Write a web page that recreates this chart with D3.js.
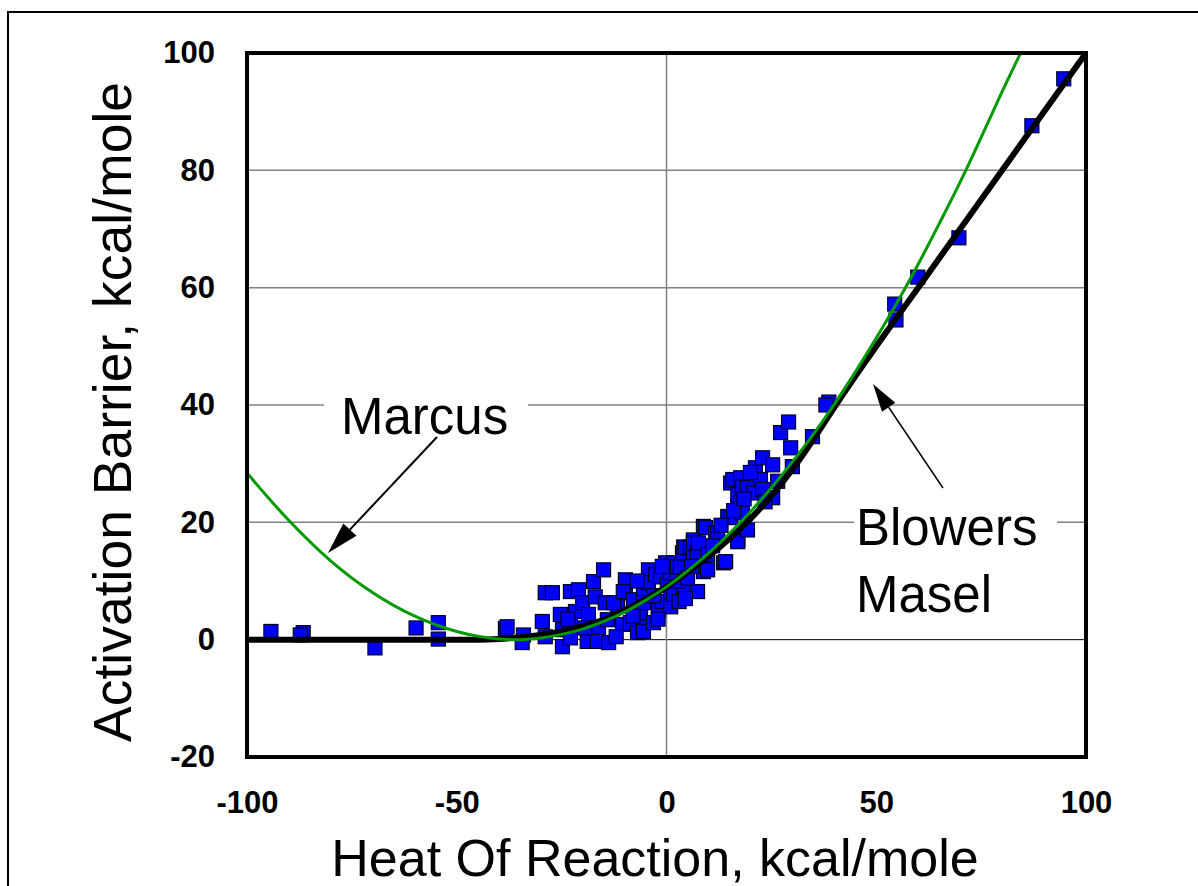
<!DOCTYPE html>
<html>
<head>
<meta charset="utf-8">
<script src="https://cdn.jsdelivr.net/npm/d3@7"></script>
<style>
  body { margin: 0; background: #fff; }
  svg { display: block; font-family: "Liberation Sans", Arial, sans-serif; }
</style>
</head>
<body>
<svg id="chart" width="1198" height="886"></svg>
<script>
// measured barriers (heat of reaction, activation barrier), kcal/mole
const heatOfReaction = [
  -94.3, -86.6, -87.3, -69.5, -59.7, -54.4, -54.4, -38.4, -38.0, -34.1, -34.4, -29.6, -28.9, -28.9, -27.2,
  -25.3, -24.8, -24.8, -22.9, -21.0, -21.7, -22.9, -22.9, -20.0, -18.9, -18.6, -17.4, -17.0, -16.2, -16.5,
  -15.0, -14.6, -14.1, -13.8, -11.7, -12.6, -10.5, -9.8, -9.8, -10.3, -8.6, -7.9, -6.9, -6.2, -6.2,
  -5.7, -5.5, -5.5, -5.5, -4.3, -4.3, -3.1, -2.6, -1.9, -1.4, -1.0, -0.2, 0.2, 1.0, 1.0,
  1.0, 1.7, 1.7, 2.6, 3.3, 3.8, 4.1, 4.1, 4.5, 5.7, 6.4, 6.4, 6.4, 7.4, 7.4,
  7.6, 8.8, 8.8, 8.8, 9.3, 9.8, 9.8, 11.7, 12.2, 13.6, 14.1, 14.6, 15.3, 15.3, 15.8,
  17.0, 17.0, 17.0, 17.0, 17.7, 17.7, 18.1, 18.1, 19.3, 19.3, 20.8, 21.2, 22.4, 22.9, 22.9,
  25.3, 25.3, 27.2, 29.1, 29.6, 30.0, 34.8, 38.7, 38.0, 54.4, 54.7, 59.9, 69.7, 87.1, 94.7,
  -23.5, -19.5, -12.0, -8.0, -3.0, -2.0, 2.5, 3.0, 5.0, 6.0, 11.0, 13.0, 16.0, 18.5, 20.0,
  23.5, 26.5, -1.0, 4.5, -7.0
];
const activationBarrier = [
  1.4, 1.2, 0.8, -1.4, 2.0, 2.9, 0.1, 1.9, 2.2, 0.8, -0.5, 3.1, 0.5, 8.0, 8.0,
  4.3, 1.7, -1.2, 8.2, 8.5, 4.8, 2.6, 0.3, 6.3, -0.3, 4.3, 9.9, 7.3, 2.0, -0.3,
  11.9, 6.3, 3.4, -0.5, 5.9, 6.3, 2.6, 10.2, 8.0, 8.2, 2.9, 6.8, 1.2, 4.8, 4.6,
  2.2, 8.5, 6.3, 1.4, 11.9, 9.7, 2.9, 11.1, 5.1, 10.7, 6.5, 13.1, 9.4, 11.4, 8.0,
  5.6, 13.1, 7.7, 12.4, 12.4, 14.8, 8.9, 15.8, 15.7, 15.8, 17.0, 16.5, 14.0, 14.8, 8.2,
  16.5, 19.3, 12.3, 11.6, 19.1, 14.5, 11.9, 18.2, 18.2, 13.1, 13.3, 21.0, 26.7, 20.8, 27.3,
  23.0, 24.7, 17.0, 16.7, 27.6, 23.3, 26.0, 21.6, 18.7, 25.9, 25.0, 29.3, 27.3, 31.0, 25.6,
  29.8, 24.2, 35.3, 37.1, 32.7, 29.5, 34.6, 40.5, 40.0, 57.2, 54.5, 61.8, 68.5, 87.6, 95.6,
  3.5, 2.0, 0.5, 4.0, 7.5, 3.5, 10.0, 6.5, 10.5, 12.5, 16.0, 19.5, 22.0, 24.0, 28.5,
  23.5, 27.0, 12.5, 7.0, 10.0
];

// Marcus curve (green)
const marcusX = [-100, -90, -80, -70, -60, -50, -45, -40, -36, -30, -25, -20, -15, -10, -5, 0,
  5, 10, 15, 20, 25, 30, 35, 40, 45, 50, 55, 60, 65, 70, 75, 80, 84.4];
const marcusY = [28.4, 20.3, 13.4, 8.0, 4.0, 1.4, 0.6, 0.1, 0.0, 0.3, 0.9, 1.8, 3.1, 4.7, 6.7, 9.0,
  11.7, 14.7, 18.1, 21.8, 25.9, 30.3, 35.0, 40.1, 45.6, 51.4, 57.5, 64.0, 70.9, 78.0, 85.6, 93.4, 100];

// Blowers-Masel curve (black)
const bmX = [-100, -60, -45, -40, -35, -30, -25, -20, -15, -10, -5, 0, 5, 10, 15, 20, 25, 30, 35, 40, 45, 50, 60, 100];
const bmY = [0, 0, 0, 0.1, 0.4, 0.8, 1.4, 2.3, 3.4, 5.0, 6.9, 9.0, 11.5, 14.2, 17.2, 20.6, 24.5, 29.0, 34.1, 39.6, 44.9, 50.0, 60.0, 100];

const xTicks = [-100, -50, 0, 50, 100];
const yTicks = [-20, 0, 20, 40, 60, 80, 100];
const yGrid = [0, 20, 40, 60, 80];
const xGrid = [0];

const svg = d3.select("#chart");
const plotLeft = 247, plotRight = 1086, plotTop = 53, plotBottom = 757;

const x = d3.scaleLinear().domain([-100, 100]).range([plotLeft, plotRight]);
const y = d3.scaleLinear().domain([-20, 100]).range([plotBottom, plotTop]);

// outer frame
svg.append("path")
  .attr("d", "M8,886V12H1198")
  .attr("fill", "none").attr("stroke", "#000").attr("stroke-width", 2);

svg.append("defs").append("clipPath").attr("id", "plotclip")
  .append("rect").attr("x", plotLeft).attr("y", plotTop)
  .attr("width", plotRight - plotLeft).attr("height", plotBottom - plotTop);

// gridlines
svg.append("g").selectAll("line").data(yGrid).join("line")
  .attr("x1", plotLeft).attr("x2", plotRight)
  .attr("y1", d => y(d)).attr("y2", d => y(d))
  .attr("stroke", d => d === 0 ? "#000" : "#808080")
  .attr("stroke-width", d => d === 0 ? 1 : 1.5);
svg.append("g").selectAll("line").data(xGrid).join("line")
  .attr("x1", d => x(d)).attr("x2", d => x(d))
  .attr("y1", plotTop).attr("y2", plotBottom)
  .attr("stroke", "#808080").attr("stroke-width", 1.5);

// label boxes hide gridlines
svg.append("rect").attr("x", 324).attr("y", 392).attr("width", 204).attr("height", 52).attr("fill", "#fff");
svg.append("rect").attr("x", 854).attr("y", 500).attr("width", 203).attr("height", 124).attr("fill", "#fff");

// data points
const pts = heatOfReaction.map((h, i) => [h, activationBarrier[i]]);
svg.append("g").selectAll("rect").data(pts).join("rect")
  .attr("x", d => x(d[0]) - 7).attr("y", d => y(d[1]) - 7)
  .attr("width", 14).attr("height", 14)
  .attr("fill", "#0000ff").attr("stroke", "#000028").attr("stroke-width", 1.2);

const line = d3.line().curve(d3.curveMonotoneX).x(d => x(d[0])).y(d => y(d[1]));
const plot = svg.append("g").attr("clip-path", "url(#plotclip)");
plot.append("path").datum(bmX.map((v, i) => [v, bmY[i]]))
  .attr("d", line).attr("fill", "none").attr("stroke", "#000").attr("stroke-width", 6);
plot.append("path").datum(marcusX.map((v, i) => [v, marcusY[i]]))
  .attr("d", line).attr("fill", "none").attr("stroke", "#009900").attr("stroke-width", 3);

// plot frame
svg.append("rect").attr("x", plotLeft).attr("y", plotTop)
  .attr("width", plotRight - plotLeft).attr("height", plotBottom - plotTop)
  .attr("fill", "none").attr("stroke", "#000").attr("stroke-width", 4);

// axes tick labels
const yAxis = svg.append("g").attr("transform", `translate(${plotLeft},0)`)
  .call(d3.axisLeft(y).tickValues(yTicks).tickFormat(d => String(d)).tickSize(0).tickPadding(32));
const xAxis = svg.append("g").attr("transform", `translate(0,${plotBottom})`)
  .call(d3.axisBottom(x).tickValues(xTicks).tickFormat(d => String(d)).tickSize(0).tickPadding(34));
[yAxis, xAxis].forEach(g => {
  g.select(".domain").remove();
  g.selectAll("text").attr("font-family", "'Liberation Sans', Arial, sans-serif")
    .attr("font-size", 31).attr("font-weight", "bold").attr("fill", "#000");
});

// axis titles
svg.append("text").attr("x", 655).attr("y", 876).attr("text-anchor", "middle")
  .attr("font-size", 52).text("Heat Of Reaction, kcal/mole");
svg.append("text").attr("transform", "translate(131,412) rotate(-90)").attr("text-anchor", "middle")
  .attr("font-size", 53.5).text("Activation Barrier, kcal/mole");

// annotations
svg.append("text").attr("x", 341).attr("y", 434).attr("font-size", 51).text("Marcus");
svg.append("text").attr("x", 856).attr("y", 545).attr("font-size", 51).text("Blowers");
svg.append("text").attr("x", 856).attr("y", 612).attr("font-size", 51).text("Masel");

function arrow(x1, y1, x2, y2, len, half, w) {
  const a = Math.atan2(y2 - y1, x2 - x1);
  const bx = x2 - len * Math.cos(a), by = y2 - len * Math.sin(a);
  svg.append("line").attr("x1", x1).attr("y1", y1).attr("x2", bx).attr("y2", by)
    .attr("stroke", "#000").attr("stroke-width", w);
  const px = -Math.sin(a) * half, py = Math.cos(a) * half;
  svg.append("path")
    .attr("d", `M${x2},${y2}L${bx + px},${by + py}L${bx - px},${by - py}Z`)
    .attr("fill", "#000");
}
arrow(437, 437, 328, 553, 32, 9, 2);
arrow(943, 488, 873, 384, 28, 8, 1.5);
</script>
</body>
</html>
